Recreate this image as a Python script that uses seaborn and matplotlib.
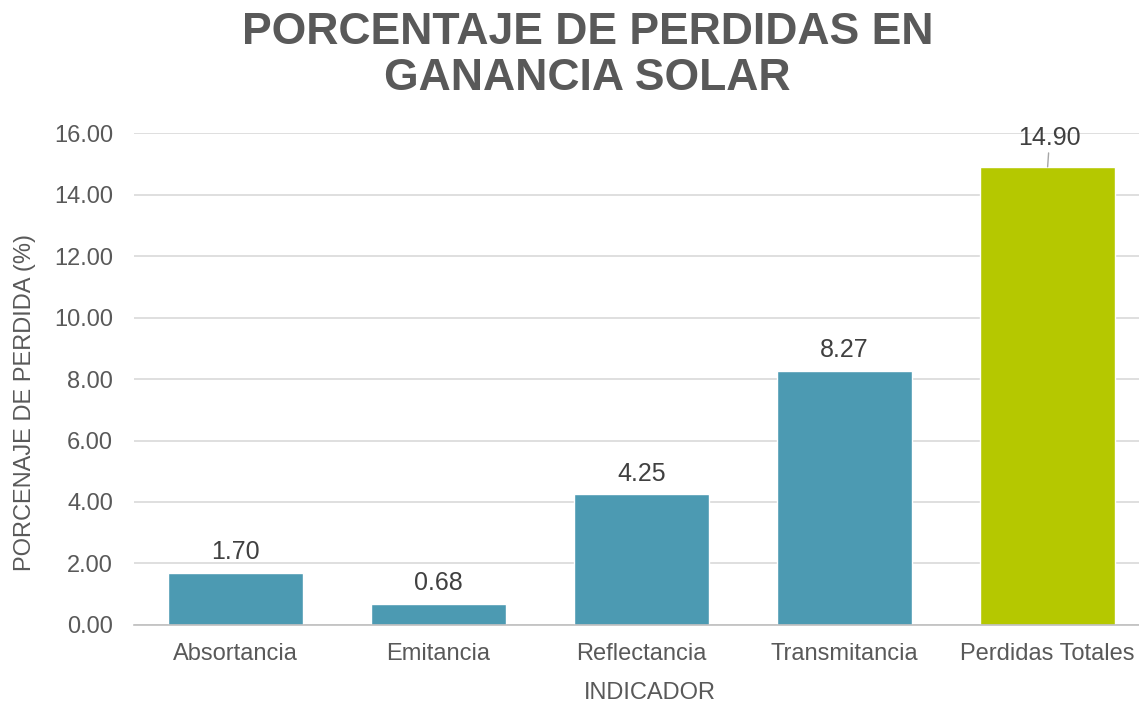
import matplotlib
matplotlib.use("Agg")
import matplotlib.pyplot as plt
import seaborn as sns
import pandas as pd

categorias = ["Absortancia", "Emitancia", "Reflectancia", "Transmitancia", "Perdidas Totales"]
perdidas = [1.70, 0.68, 4.25, 8.27, 14.90]
colores = ["#4C9AB2", "#4C9AB2", "#4C9AB2", "#4C9AB2", "#B5C800"]
yticks = [0, 2, 4, 6, 8, 10, 12, 14, 16]

df = pd.DataFrame({"indicador": categorias, "perdida": perdidas})

sns.set_style("white")
plt.rcParams["font.family"] = ["Liberation Sans", "DejaVu Sans"]

fig = plt.figure(figsize=(11.39, 7.05), dpi=100)
ax = fig.add_axes([0.1176, 0.1135, 0.8824, 0.6978])

sns.barplot(data=df, x="indicador", y="perdida", hue="indicador",
            palette=colores, width=0.665, legend=False, ax=ax, saturation=1)

ax.set_xlim(-0.5, 4.45)
ax.set_ylim(0, 16)
ax.set_yticks(yticks)
ax.set_yticklabels([f"{v:.2f}" for v in yticks])
ax.grid(axis="y", color="#D9D9D9", linewidth=1.2)
ax.set_axisbelow(True)
for s in ["top", "right", "left"]:
    ax.spines[s].set_visible(False)
ax.spines["bottom"].set_color("#BFBFBF")
ax.spines["bottom"].set_linewidth(1.2)
ax.tick_params(axis="both", length=0, labelsize=17, colors="#595959")
ax.tick_params(axis="y", pad=15)
ax.tick_params(axis="x", pad=13)

ax.set_xlabel("INDICADOR", fontsize=17, color="#595959", labelpad=14)
ax.set_ylabel("PORCENAJE DE PERDIDA (%)", fontsize=17, color="#595959", labelpad=14)
ax.xaxis.set_label_coords(0.513, -0.115)
ax.yaxis.set_label_coords(-0.097, 0.453)

for i, v in enumerate(perdidas):
    if i == len(perdidas) - 1:
        ax.annotate(f"{v:.2f}", xy=(i, v), xytext=(i + 0.01, v + 0.95),
                    ha="center", va="center", fontsize=18, color="#404040",
                    arrowprops=dict(arrowstyle="-", color="#A6A6A6", lw=1,
                                    shrinkA=11, shrinkB=0))
    else:
        ax.text(i, v + 0.28, f"{v:.2f}", ha="center", va="bottom",
                fontsize=18, color="#404040")

fig.suptitle("PORCENTAJE DE PERDIDAS EN\nGANANCIA SOLAR", x=0.516, y=0.983,
             fontsize=32, fontweight="bold", color="#595959", linespacing=1.15)

fig.savefig("out.png", dpi=100)
